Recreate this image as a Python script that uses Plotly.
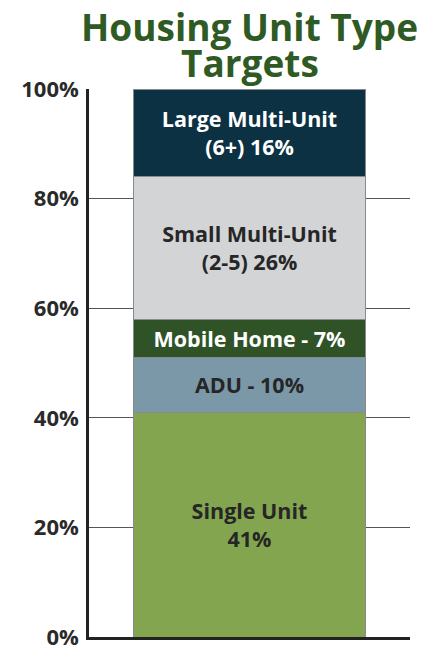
import plotly.graph_objects as go

categories = ["Single Unit", "ADU", "Mobile Home", "Small Multi-Unit", "Large Multi-Unit"]
values = [41, 10, 7, 26, 16]
labels = ["Single Unit<br>41%", "ADU - 10%", "Mobile Home - 7%",
          "Small Multi-Unit<br>(2-5) 26%", "Large Multi-Unit<br>(6+) 16%"]
colors = ["#84a550", "#7b98a8", "#2f5327", "#d3d4d6", "#0b3142"]
text_colors = ["#262626", "#262626", "#ffffff", "#262626", "#ffffff"]
tick_vals = [0, 20, 40, 60, 80, 100]
tick_text = [f"{v}%" for v in tick_vals]
title_lines = ["Housing Unit Type", "Targets"]

fig = go.Figure()
for cat, val, lab, col, tc in zip(categories, values, labels, colors, text_colors):
    fig.add_trace(go.Bar(
        x=["Targets"], y=[val], name=cat,
        text=[lab], texttemplate="%{text}", textposition="inside",
        insidetextanchor="middle", constraintext="none",
        textfont=dict(family="Open Sans", size=21.5, color=tc, weight="bold"),
        marker=dict(color=col, line=dict(color="#8a8a8a", width=1)),
        width=0.723, hoverinfo="skip",
    ))

title_y = [26, 63]
for line, yp in zip(title_lines, title_y):
    fig.add_annotation(text=line, xref="paper", x=0.5, yref="paper",
                       y=(637 - yp) / 548,
                       showarrow=False, yanchor="middle", xanchor="center",
                       font=dict(family="Open Sans", size=37, color="#2f5a23", weight="bold"))

fig.update_layout(
    barmode="stack",
    width=424, height=646,
    margin=dict(l=89, r=14, t=89, b=9, autoexpand=False),
    paper_bgcolor="white", plot_bgcolor="white",
    showlegend=False,
)
fig.update_xaxes(range=[-0.5, 0.5], showticklabels=False, showgrid=False,
                 showline=True, linecolor="#222", linewidth=2.5, ticks="",
                 zeroline=False, automargin=False)
fig.update_yaxes(range=[0, 100], tickvals=tick_vals, ticktext=tick_text,
                 tickfont=dict(family="Open Sans", size=22, color="#2a2a2a", weight="bold"),
                 showgrid=True, gridcolor="#555", gridwidth=1.3,
                 showline=True, linecolor="#222", linewidth=2.5,
                 ticks="", ticklabelstandoff=3, zeroline=False,
                 ticklabeloverflow="allow", automargin=False)

fig.write_html("out.html", config={"displayModeBar": False},
               post_script="document.body.style.margin='0';document.body.style.overflow='hidden';")
